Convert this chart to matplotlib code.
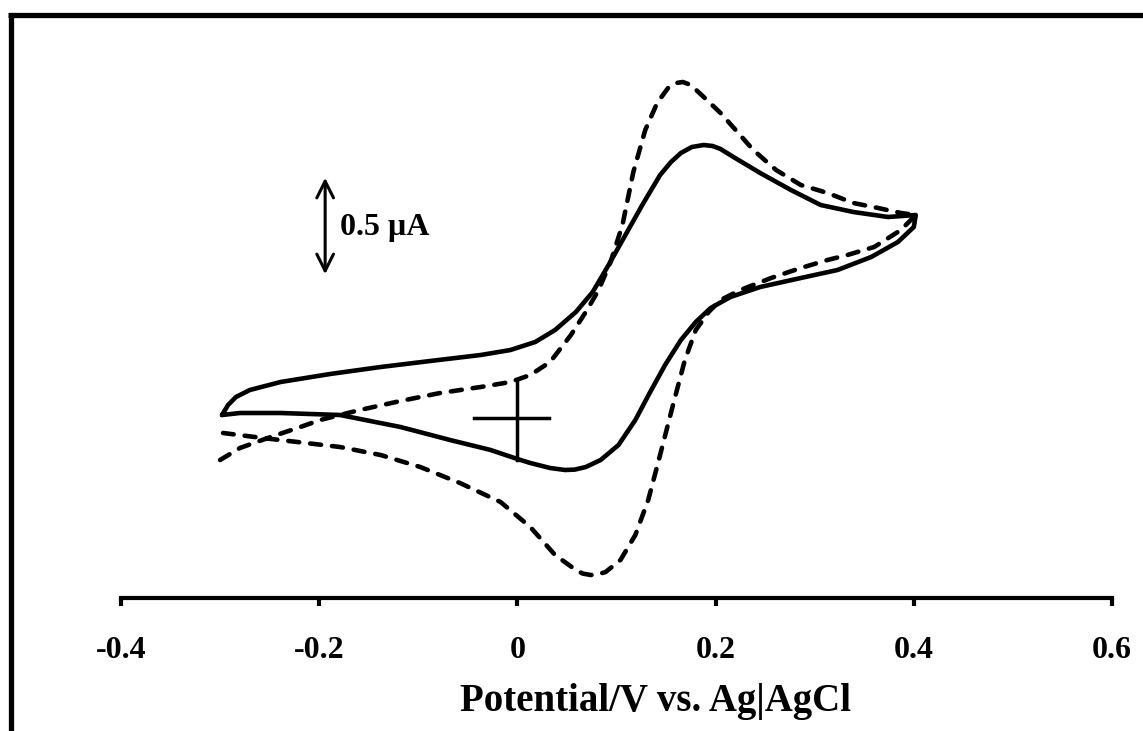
import matplotlib
matplotlib.use("Agg")
import matplotlib.pyplot as plt
from matplotlib.lines import Line2D

# potential (V) and current (uA)
solid_fwd_v = [-0.298, -0.292, -0.284, -0.270, -0.239, -0.189, -0.138, -0.088, -0.037, -0.007,
               0.018, 0.038, 0.059, 0.076, 0.092, 0.109, 0.126, 0.144, 0.155, 0.165,
               0.176, 0.188, 0.197, 0.205, 0.218, 0.245, 0.276, 0.306, 0.339, 0.374, 0.402]
solid_fwd_i = [0.015, 0.065, 0.105, 0.14, 0.18, 0.22, 0.255, 0.285, 0.315, 0.34,
               0.38, 0.44, 0.53, 0.63, 0.765, 0.915, 1.065, 1.215, 1.28, 1.325,
               1.355, 1.365, 1.36, 1.345, 1.305, 1.225, 1.14, 1.065, 1.03, 1.005, 1.015]
solid_rev_v = [0.402, 0.400, 0.384, 0.357, 0.323, 0.286, 0.245, 0.215, 0.195, 0.180,
               0.165, 0.149, 0.134, 0.119, 0.102, 0.084, 0.069, 0.058, 0.048, 0.033,
               0.013, 0.0, -0.027, -0.068, -0.118, -0.179, -0.239, -0.280, -0.298]
solid_rev_i = [1.015, 0.955, 0.88, 0.805, 0.74, 0.70, 0.655, 0.605, 0.55, 0.48,
               0.39, 0.265, 0.13, -0.01, -0.135, -0.21, -0.245, -0.258, -0.26, -0.25,
               -0.225, -0.205, -0.16, -0.11, -0.045, 0.015, 0.025, 0.025, 0.015]

dash_fwd_v = [-0.300, -0.280, -0.249, -0.219, -0.199, -0.159, -0.118, -0.078, -0.037, -0.007,
              0.013, 0.033, 0.054, 0.069, 0.082, 0.094, 0.106, 0.117, 0.129, 0.141,
              0.152, 0.160, 0.167, 0.175, 0.188, 0.205, 0.222, 0.238, 0.261, 0.286,
              0.313, 0.339, 0.364, 0.387, 0.402]
dash_fwd_i = [-0.21, -0.15, -0.095, -0.045, -0.01, 0.04, 0.085, 0.125, 0.155, 0.18,
              0.215, 0.28, 0.415, 0.53, 0.64, 0.78, 0.965, 1.23, 1.44, 1.575,
              1.65, 1.675, 1.68, 1.665, 1.605, 1.525, 1.43, 1.34, 1.24, 1.165,
              1.125, 1.075, 1.05, 1.025, 1.015]
dash_rev_v = [0.402, 0.387, 0.360, 0.333, 0.313, 0.286, 0.256, 0.225, 0.205, 0.193,
              0.180, 0.169, 0.157, 0.144, 0.132, 0.119, 0.104, 0.089, 0.081, 0.074,
              0.066, 0.059, 0.038, 0.013, -0.017, -0.058, -0.098, -0.138, -0.179, -0.222,
              -0.257, -0.297]
dash_rev_i = [1.015, 0.94, 0.855, 0.815, 0.79, 0.75, 0.70, 0.64, 0.59, 0.53,
              0.44, 0.29, 0.065, -0.185, -0.41, -0.585, -0.71, -0.77, -0.782, -0.785,
              -0.778, -0.76, -0.685, -0.545, -0.42, -0.325, -0.245, -0.185, -0.145, -0.12,
              -0.10, -0.075]

xticks = [-0.4, -0.2, 0, 0.2, 0.4, 0.6]
xtick_labels = ["-0.4", "-0.2", "0", "0.2", "0.4", "0.6"]

plt.rcParams['font.family'] = ['Liberation Serif', 'DejaVu Serif']
plt.rcParams['font.weight'] = 'bold'

fig = plt.figure(figsize=(11.43, 7.31), dpi=100)
ax = fig.add_axes([121 / 1143, 133 / 731, 991 / 1143, 578 / 731])

ax.plot(solid_fwd_v + solid_rev_v, solid_fwd_i + solid_rev_i, color='black', lw=3.3,
        solid_capstyle='round', solid_joinstyle='round')
ax.plot(dash_fwd_v + dash_rev_v, dash_fwd_i + dash_rev_i, color='black', lw=3.3,
        linestyle=(0, (2.4, 2.4)), dash_capstyle='round', dash_joinstyle='round')

# zero-current cross
ax.plot([-0.044, 0.032], [0, 0], color='black', lw=2.5)
ax.plot([0, 0], [0.18, -0.21], color='black', lw=2.5)

# current scale bar
ax.annotate('', xy=(-0.194, 1.215), xytext=(-0.194, 0.705),
            arrowprops=dict(arrowstyle='<->', color='black', lw=2.2,
                            mutation_scale=30))
ax.text(-0.179, 0.95, '0.5 µA', fontsize=23, fontweight='bold', va='center', ha='left')

ax.set_xlim(-0.4, 0.6)
ax.set_ylim(-0.9, 1.99)
ax.set_xticks(xticks)
ax.set_xticklabels(xtick_labels, fontsize=23, fontweight='bold')
ax.set_yticks([])
for s in ['top', 'right', 'left']:
    ax.spines[s].set_visible(False)
ax.spines['bottom'].set_linewidth(3)
ax.tick_params(axis='x', direction='out', length=6, width=3, pad=21)

fig.text(655 / 1143, 1 - 702 / 731, 'Potential/V vs. Ag|AgCl', fontsize=28,
         fontweight='bold', ha='center', va='center')

# frame lines at top and left of the figure
fig.add_artist(Line2D([10.5 / 1143, 10.5 / 1143], [0, 1 - 14.5 / 731], color='black', lw=3.8,
                      solid_capstyle='butt', transform=fig.transFigure))
fig.add_artist(Line2D([8 / 1143, 1], [1 - 14.5 / 731, 1 - 14.5 / 731], color='black', lw=3.8,
                      solid_capstyle='butt', transform=fig.transFigure))

fig.savefig('out.png', dpi=100)
